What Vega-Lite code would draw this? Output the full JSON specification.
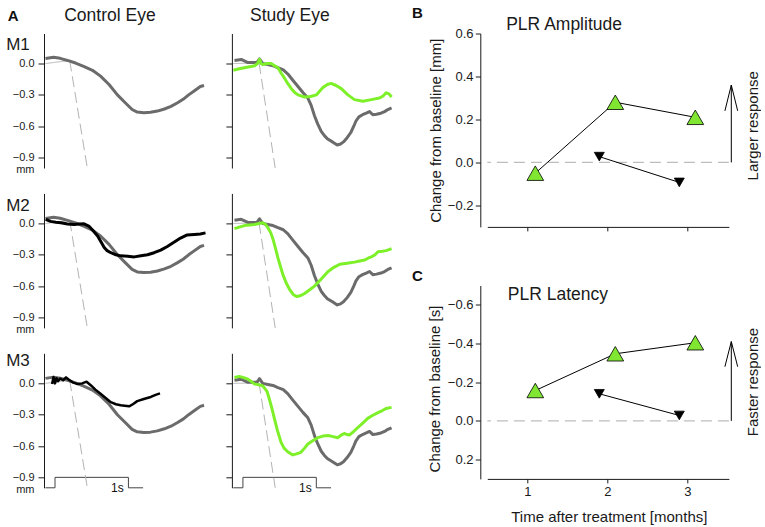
{
  "$schema": "https://vega.github.io/schema/vega-lite/v6.json",
  "padding": {"left": 5, "top": 5.5, "right": 0, "bottom": 0},
  "config": {
    "font": "Liberation Sans",
    "view": {"stroke": null},
    "axis": {"grid": false, "labelOverlap": false, "labelFont": "Liberation Sans", "titleFont": "Liberation Sans", "labelColor": "#1a1a1a", "titleColor": "#1a1a1a", "domainColor": "#1a1a1a", "tickColor": "#1a1a1a", "titleFontWeight": "normal"},
    "title": {"font": "Liberation Sans", "color": "#111111"},
    "text": {"font": "Liberation Sans"}
  },
  "datasets": {
    "fit": [
      {"eye": "Control", "seg": "base", "t": 0.02, "v": 0.0},
      {"eye": "Control", "seg": "base", "t": 0.35, "v": 0.03},
      {"eye": "Control", "seg": "slope", "t": 0.35, "v": 0.03},
      {"eye": "Control", "seg": "slope", "t": 0.59, "v": -1.0},
      {"eye": "Study", "seg": "base", "t": 0.02, "v": 0.0},
      {"eye": "Study", "seg": "base", "t": 0.37, "v": 0.005},
      {"eye": "Study", "seg": "slope", "t": 0.37, "v": 0.005},
      {"eye": "Study", "seg": "slope", "t": 0.59, "v": -1.0}
    ],
    "baseline": [
      {"eye": "Control", "t": 0.02, "v": 0.048}, {"eye": "Control", "t": 0.13, "v": 0.06}, {"eye": "Control", "t": 0.22, "v": 0.05},
      {"eye": "Control", "t": 0.32, "v": 0.03}, {"eye": "Control", "t": 0.43, "v": 0.005}, {"eye": "Control", "t": 0.54, "v": -0.026},
      {"eye": "Control", "t": 0.66, "v": -0.064}, {"eye": "Control", "t": 0.77, "v": -0.12}, {"eye": "Control", "t": 0.886, "v": -0.2},
      {"eye": "Control", "t": 1.0, "v": -0.3}, {"eye": "Control", "t": 1.11, "v": -0.377}, {"eye": "Control", "t": 1.2, "v": -0.44},
      {"eye": "Control", "t": 1.27, "v": -0.464}, {"eye": "Control", "t": 1.36, "v": -0.47}, {"eye": "Control", "t": 1.45, "v": -0.467},
      {"eye": "Control", "t": 1.545, "v": -0.455}, {"eye": "Control", "t": 1.64, "v": -0.435}, {"eye": "Control", "t": 1.73, "v": -0.41},
      {"eye": "Control", "t": 1.82, "v": -0.375}, {"eye": "Control", "t": 1.9, "v": -0.34}, {"eye": "Control", "t": 1.97, "v": -0.3},
      {"eye": "Control", "t": 2.05, "v": -0.26}, {"eye": "Control", "t": 2.13, "v": -0.22}, {"eye": "Control", "t": 2.18, "v": -0.21},
      {"eye": "Study", "t": 0.035, "v": 0.03}, {"eye": "Study", "t": 0.127, "v": 0.04}, {"eye": "Study", "t": 0.218, "v": 0.01},
      {"eye": "Study", "t": 0.3, "v": 0.01}, {"eye": "Study", "t": 0.34, "v": 0.01}, {"eye": "Study", "t": 0.376, "v": 0.045},
      {"eye": "Study", "t": 0.42, "v": 0.0}, {"eye": "Study", "t": 0.49, "v": -0.01}, {"eye": "Study", "t": 0.56, "v": -0.02},
      {"eye": "Study", "t": 0.627, "v": -0.04}, {"eye": "Study", "t": 0.7, "v": -0.06}, {"eye": "Study", "t": 0.763, "v": -0.1},
      {"eye": "Study", "t": 0.83, "v": -0.16}, {"eye": "Study", "t": 0.9, "v": -0.22}, {"eye": "Study", "t": 0.97, "v": -0.28},
      {"eye": "Study", "t": 1.035, "v": -0.33}, {"eye": "Study", "t": 1.08, "v": -0.4}, {"eye": "Study", "t": 1.125, "v": -0.5},
      {"eye": "Study", "t": 1.17, "v": -0.58}, {"eye": "Study", "t": 1.217, "v": -0.65}, {"eye": "Study", "t": 1.26, "v": -0.69},
      {"eye": "Study", "t": 1.3, "v": -0.72}, {"eye": "Study", "t": 1.37, "v": -0.75}, {"eye": "Study", "t": 1.435, "v": -0.78},
      {"eye": "Study", "t": 1.48, "v": -0.77}, {"eye": "Study", "t": 1.52, "v": -0.75}, {"eye": "Study", "t": 1.57, "v": -0.71},
      {"eye": "Study", "t": 1.62, "v": -0.66}, {"eye": "Study", "t": 1.66, "v": -0.6}, {"eye": "Study", "t": 1.69, "v": -0.55},
      {"eye": "Study", "t": 1.73, "v": -0.51}, {"eye": "Study", "t": 1.78, "v": -0.49}, {"eye": "Study", "t": 1.83, "v": -0.475},
      {"eye": "Study", "t": 1.875, "v": -0.46}, {"eye": "Study", "t": 1.92, "v": -0.49}, {"eye": "Study", "t": 1.97, "v": -0.485},
      {"eye": "Study", "t": 2.03, "v": -0.475}, {"eye": "Study", "t": 2.08, "v": -0.46}, {"eye": "Study", "t": 2.125, "v": -0.44},
      {"eye": "Study", "t": 2.175, "v": -0.425}
    ],
    "test": [
      {"eye": "Control", "row": "M2", "t": 0.023, "v": 0.04}, {"eye": "Control", "row": "M2", "t": 0.09, "v": 0.02},
      {"eye": "Control", "row": "M2", "t": 0.16, "v": 0.012}, {"eye": "Control", "row": "M2", "t": 0.23, "v": 0.007},
      {"eye": "Control", "row": "M2", "t": 0.32, "v": -0.005}, {"eye": "Control", "row": "M2", "t": 0.41, "v": -0.01},
      {"eye": "Control", "row": "M2", "t": 0.48, "v": -0.005}, {"eye": "Control", "row": "M2", "t": 0.545, "v": -0.003},
      {"eye": "Control", "row": "M2", "t": 0.61, "v": -0.025}, {"eye": "Control", "row": "M2", "t": 0.67, "v": -0.07},
      {"eye": "Control", "row": "M2", "t": 0.73, "v": -0.12}, {"eye": "Control", "row": "M2", "t": 0.78, "v": -0.18},
      {"eye": "Control", "row": "M2", "t": 0.82, "v": -0.23}, {"eye": "Control", "row": "M2", "t": 0.86, "v": -0.26},
      {"eye": "Control", "row": "M2", "t": 0.91, "v": -0.28}, {"eye": "Control", "row": "M2", "t": 0.98, "v": -0.3},
      {"eye": "Control", "row": "M2", "t": 1.045, "v": -0.31}, {"eye": "Control", "row": "M2", "t": 1.14, "v": -0.315},
      {"eye": "Control", "row": "M2", "t": 1.23, "v": -0.32}, {"eye": "Control", "row": "M2", "t": 1.32, "v": -0.31},
      {"eye": "Control", "row": "M2", "t": 1.41, "v": -0.3}, {"eye": "Control", "row": "M2", "t": 1.5, "v": -0.28},
      {"eye": "Control", "row": "M2", "t": 1.59, "v": -0.255}, {"eye": "Control", "row": "M2", "t": 1.68, "v": -0.22},
      {"eye": "Control", "row": "M2", "t": 1.77, "v": -0.18}, {"eye": "Control", "row": "M2", "t": 1.86, "v": -0.14},
      {"eye": "Control", "row": "M2", "t": 1.95, "v": -0.11}, {"eye": "Control", "row": "M2", "t": 2.05, "v": -0.105},
      {"eye": "Control", "row": "M2", "t": 2.13, "v": -0.1}, {"eye": "Control", "row": "M2", "t": 2.2, "v": -0.09},
      {"eye": "Control", "row": "M3", "t": 0.11, "v": -0.005}, {"eye": "Control", "row": "M3", "t": 0.13, "v": 0.06},
      {"eye": "Control", "row": "M3", "t": 0.15, "v": 0.0}, {"eye": "Control", "row": "M3", "t": 0.17, "v": 0.05},
      {"eye": "Control", "row": "M3", "t": 0.19, "v": 0.02}, {"eye": "Control", "row": "M3", "t": 0.22, "v": 0.045},
      {"eye": "Control", "row": "M3", "t": 0.26, "v": 0.03}, {"eye": "Control", "row": "M3", "t": 0.3, "v": 0.057},
      {"eye": "Control", "row": "M3", "t": 0.34, "v": 0.035}, {"eye": "Control", "row": "M3", "t": 0.39, "v": 0.01},
      {"eye": "Control", "row": "M3", "t": 0.45, "v": -0.005}, {"eye": "Control", "row": "M3", "t": 0.52, "v": 0.0},
      {"eye": "Control", "row": "M3", "t": 0.58, "v": 0.016}, {"eye": "Control", "row": "M3", "t": 0.64, "v": -0.02},
      {"eye": "Control", "row": "M3", "t": 0.7, "v": -0.06}, {"eye": "Control", "row": "M3", "t": 0.77, "v": -0.1},
      {"eye": "Control", "row": "M3", "t": 0.84, "v": -0.14}, {"eye": "Control", "row": "M3", "t": 0.91, "v": -0.18},
      {"eye": "Control", "row": "M3", "t": 0.98, "v": -0.2}, {"eye": "Control", "row": "M3", "t": 1.045, "v": -0.21},
      {"eye": "Control", "row": "M3", "t": 1.1, "v": -0.215}, {"eye": "Control", "row": "M3", "t": 1.16, "v": -0.22},
      {"eye": "Control", "row": "M3", "t": 1.21, "v": -0.2}, {"eye": "Control", "row": "M3", "t": 1.27, "v": -0.17},
      {"eye": "Control", "row": "M3", "t": 1.36, "v": -0.15}, {"eye": "Control", "row": "M3", "t": 1.455, "v": -0.13},
      {"eye": "Control", "row": "M3", "t": 1.52, "v": -0.11}, {"eye": "Control", "row": "M3", "t": 1.58, "v": -0.096},
      {"eye": "Study", "row": "M1", "t": 0.02, "v": -0.064}, {"eye": "Study", "row": "M1", "t": 0.1, "v": -0.05},
      {"eye": "Study", "row": "M1", "t": 0.17, "v": -0.04}, {"eye": "Study", "row": "M1", "t": 0.24, "v": -0.03},
      {"eye": "Study", "row": "M1", "t": 0.31, "v": -0.02}, {"eye": "Study", "row": "M1", "t": 0.35, "v": 0.0},
      {"eye": "Study", "row": "M1", "t": 0.376, "v": 0.04}, {"eye": "Study", "row": "M1", "t": 0.4, "v": 0.0},
      {"eye": "Study", "row": "M1", "t": 0.42, "v": -0.01}, {"eye": "Study", "row": "M1", "t": 0.48, "v": 0.0},
      {"eye": "Study", "row": "M1", "t": 0.535, "v": 0.0}, {"eye": "Study", "row": "M1", "t": 0.58, "v": -0.02},
      {"eye": "Study", "row": "M1", "t": 0.627, "v": -0.04}, {"eye": "Study", "row": "M1", "t": 0.67, "v": -0.09},
      {"eye": "Study", "row": "M1", "t": 0.717, "v": -0.14}, {"eye": "Study", "row": "M1", "t": 0.76, "v": -0.19},
      {"eye": "Study", "row": "M1", "t": 0.81, "v": -0.24}, {"eye": "Study", "row": "M1", "t": 0.86, "v": -0.28},
      {"eye": "Study", "row": "M1", "t": 0.9, "v": -0.3}, {"eye": "Study", "row": "M1", "t": 0.99, "v": -0.32},
      {"eye": "Study", "row": "M1", "t": 1.07, "v": -0.315}, {"eye": "Study", "row": "M1", "t": 1.15, "v": -0.3},
      {"eye": "Study", "row": "M1", "t": 1.2, "v": -0.26}, {"eye": "Study", "row": "M1", "t": 1.24, "v": -0.23},
      {"eye": "Study", "row": "M1", "t": 1.3, "v": -0.2}, {"eye": "Study", "row": "M1", "t": 1.35, "v": -0.19},
      {"eye": "Study", "row": "M1", "t": 1.42, "v": -0.21}, {"eye": "Study", "row": "M1", "t": 1.49, "v": -0.24},
      {"eye": "Study", "row": "M1", "t": 1.58, "v": -0.3}, {"eye": "Study", "row": "M1", "t": 1.67, "v": -0.345},
      {"eye": "Study", "row": "M1", "t": 1.785, "v": -0.36}, {"eye": "Study", "row": "M1", "t": 1.9, "v": -0.345},
      {"eye": "Study", "row": "M1", "t": 2.01, "v": -0.33}, {"eye": "Study", "row": "M1", "t": 2.06, "v": -0.31},
      {"eye": "Study", "row": "M1", "t": 2.1, "v": -0.28}, {"eye": "Study", "row": "M1", "t": 2.14, "v": -0.29},
      {"eye": "Study", "row": "M1", "t": 2.175, "v": -0.32},
      {"eye": "Study", "row": "M2", "t": 0.035, "v": -0.05}, {"eye": "Study", "row": "M2", "t": 0.1, "v": -0.035},
      {"eye": "Study", "row": "M2", "t": 0.17, "v": -0.02}, {"eye": "Study", "row": "M2", "t": 0.24, "v": -0.015},
      {"eye": "Study", "row": "M2", "t": 0.31, "v": -0.01}, {"eye": "Study", "row": "M2", "t": 0.37, "v": 0.0},
      {"eye": "Study", "row": "M2", "t": 0.42, "v": 0.007}, {"eye": "Study", "row": "M2", "t": 0.46, "v": -0.01},
      {"eye": "Study", "row": "M2", "t": 0.49, "v": -0.04}, {"eye": "Study", "row": "M2", "t": 0.53, "v": -0.09},
      {"eye": "Study", "row": "M2", "t": 0.56, "v": -0.15}, {"eye": "Study", "row": "M2", "t": 0.595, "v": -0.24},
      {"eye": "Study", "row": "M2", "t": 0.627, "v": -0.33}, {"eye": "Study", "row": "M2", "t": 0.66, "v": -0.41},
      {"eye": "Study", "row": "M2", "t": 0.695, "v": -0.49}, {"eye": "Study", "row": "M2", "t": 0.74, "v": -0.57},
      {"eye": "Study", "row": "M2", "t": 0.785, "v": -0.63}, {"eye": "Study", "row": "M2", "t": 0.835, "v": -0.68},
      {"eye": "Study", "row": "M2", "t": 0.885, "v": -0.7}, {"eye": "Study", "row": "M2", "t": 0.94, "v": -0.69},
      {"eye": "Study", "row": "M2", "t": 0.99, "v": -0.67}, {"eye": "Study", "row": "M2", "t": 1.06, "v": -0.635},
      {"eye": "Study", "row": "M2", "t": 1.125, "v": -0.6}, {"eye": "Study", "row": "M2", "t": 1.22, "v": -0.53},
      {"eye": "Study", "row": "M2", "t": 1.31, "v": -0.46}, {"eye": "Study", "row": "M2", "t": 1.39, "v": -0.42},
      {"eye": "Study", "row": "M2", "t": 1.47, "v": -0.39}, {"eye": "Study", "row": "M2", "t": 1.57, "v": -0.38},
      {"eye": "Study", "row": "M2", "t": 1.67, "v": -0.37}, {"eye": "Study", "row": "M2", "t": 1.74, "v": -0.36},
      {"eye": "Study", "row": "M2", "t": 1.81, "v": -0.35}, {"eye": "Study", "row": "M2", "t": 1.86, "v": -0.33},
      {"eye": "Study", "row": "M2", "t": 1.9, "v": -0.32}, {"eye": "Study", "row": "M2", "t": 1.95, "v": -0.3},
      {"eye": "Study", "row": "M2", "t": 1.99, "v": -0.27}, {"eye": "Study", "row": "M2", "t": 2.05, "v": -0.265},
      {"eye": "Study", "row": "M2", "t": 2.1, "v": -0.26}, {"eye": "Study", "row": "M2", "t": 2.14, "v": -0.25},
      {"eye": "Study", "row": "M2", "t": 2.175, "v": -0.24},
      {"eye": "Study", "row": "M3", "t": 0.035, "v": 0.057}, {"eye": "Study", "row": "M3", "t": 0.1, "v": 0.067},
      {"eye": "Study", "row": "M3", "t": 0.16, "v": 0.055}, {"eye": "Study", "row": "M3", "t": 0.218, "v": 0.04},
      {"eye": "Study", "row": "M3", "t": 0.27, "v": 0.015}, {"eye": "Study", "row": "M3", "t": 0.31, "v": -0.007},
      {"eye": "Study", "row": "M3", "t": 0.35, "v": -0.01}, {"eye": "Study", "row": "M3", "t": 0.376, "v": -0.016},
      {"eye": "Study", "row": "M3", "t": 0.41, "v": -0.02}, {"eye": "Study", "row": "M3", "t": 0.44, "v": -0.04},
      {"eye": "Study", "row": "M3", "t": 0.48, "v": -0.08}, {"eye": "Study", "row": "M3", "t": 0.51, "v": -0.15},
      {"eye": "Study", "row": "M3", "t": 0.545, "v": -0.24}, {"eye": "Study", "row": "M3", "t": 0.58, "v": -0.34},
      {"eye": "Study", "row": "M3", "t": 0.62, "v": -0.45}, {"eye": "Study", "row": "M3", "t": 0.67, "v": -0.565},
      {"eye": "Study", "row": "M3", "t": 0.71, "v": -0.62}, {"eye": "Study", "row": "M3", "t": 0.76, "v": -0.655},
      {"eye": "Study", "row": "M3", "t": 0.83, "v": -0.685}, {"eye": "Study", "row": "M3", "t": 0.88, "v": -0.675},
      {"eye": "Study", "row": "M3", "t": 0.94, "v": -0.66}, {"eye": "Study", "row": "M3", "t": 0.99, "v": -0.62},
      {"eye": "Study", "row": "M3", "t": 1.035, "v": -0.58}, {"eye": "Study", "row": "M3", "t": 1.1, "v": -0.55},
      {"eye": "Study", "row": "M3", "t": 1.17, "v": -0.52}, {"eye": "Study", "row": "M3", "t": 1.24, "v": -0.505},
      {"eye": "Study", "row": "M3", "t": 1.31, "v": -0.5}, {"eye": "Study", "row": "M3", "t": 1.38, "v": -0.51},
      {"eye": "Study", "row": "M3", "t": 1.44, "v": -0.52}, {"eye": "Study", "row": "M3", "t": 1.5, "v": -0.49},
      {"eye": "Study", "row": "M3", "t": 1.53, "v": -0.48}, {"eye": "Study", "row": "M3", "t": 1.57, "v": -0.49},
      {"eye": "Study", "row": "M3", "t": 1.6, "v": -0.495}, {"eye": "Study", "row": "M3", "t": 1.66, "v": -0.46},
      {"eye": "Study", "row": "M3", "t": 1.72, "v": -0.42}, {"eye": "Study", "row": "M3", "t": 1.79, "v": -0.375},
      {"eye": "Study", "row": "M3", "t": 1.85, "v": -0.335}, {"eye": "Study", "row": "M3", "t": 1.92, "v": -0.305},
      {"eye": "Study", "row": "M3", "t": 1.99, "v": -0.28}, {"eye": "Study", "row": "M3", "t": 2.05, "v": -0.26},
      {"eye": "Study", "row": "M3", "t": 2.1, "v": -0.24}, {"eye": "Study", "row": "M3", "t": 2.175, "v": -0.23}
    ],
    "stim": [
      {"i": 1, "t": 0.02, "v": -1.0}, {"i": 2, "t": 0.15, "v": -1.0}, {"i": 3, "t": 0.15, "v": -0.9},
      {"i": 4, "t": 1.15, "v": -0.9}, {"i": 5, "t": 1.15, "v": -1.0}, {"i": 6, "t": 1.35, "v": -1.0}
    ],
    "stimlabel": [{"label": "1s", "t": 1.0, "v": -1.0}],
    "plr": [
      {"measure": "Amplitude", "eye": "Study", "month": 1.1, "value": -0.05},
      {"measure": "Amplitude", "eye": "Study", "month": 2.1, "value": 0.28},
      {"measure": "Amplitude", "eye": "Study", "month": 3.1, "value": 0.21},
      {"measure": "Amplitude", "eye": "Control", "month": 1.9, "value": 0.027},
      {"measure": "Amplitude", "eye": "Control", "month": 2.9, "value": -0.093},
      {"measure": "Latency", "eye": "Study", "month": 1.1, "value": -0.157},
      {"measure": "Latency", "eye": "Study", "month": 2.1, "value": -0.347},
      {"measure": "Latency", "eye": "Study", "month": 3.1, "value": -0.404},
      {"measure": "Latency", "eye": "Control", "month": 1.9, "value": -0.14},
      {"measure": "Latency", "eye": "Control", "month": 2.9, "value": -0.028}
    ],
    "arrows": [
      {"panel": "B", "m1": 3.55, "a1": 0.0, "m2": 3.55, "a2": 0.36},
      {"panel": "B", "m1": 3.47, "a1": 0.24, "m2": 3.55, "a2": 0.36},
      {"panel": "B", "m1": 3.63, "a1": 0.24, "m2": 3.55, "a2": 0.36},
      {"panel": "C", "m1": 3.55, "a1": 0.0, "m2": 3.55, "a2": -0.41},
      {"panel": "C", "m1": 3.47, "a1": -0.28, "m2": 3.55, "a2": -0.41},
      {"panel": "C", "m1": 3.63, "a1": -0.28, "m2": 3.55, "a2": -0.41}
    ]
  },
  "hconcat": [
    {
      "columns": 2,
      "bounds": "flush",
      "spacing": {"row": 24.9, "column": 25.9},
      "concat": [
        {
          "width": 161.5, "height": 134.5,
          "title": {"text": "A", "anchor": "start", "frame": "group", "dx": -36.3, "offset": -16.8, "fontSize": 15, "fontWeight": "bold", "baseline": "top"},
          "encoding": {
            "x": {"field": "t", "type": "quantitative", "scale": {"domain": [0, 2.2], "nice": false, "zero": false},
                  "axis": {"orient": "top", "domain": false, "ticks": false, "labels": false, "title": "Control Eye", "titleX": 19.7, "titleY": -12.7, "titleAlign": "left", "titleBaseline": "alphabetic", "titleFontSize": 17.5, "titleAngle": 0}},
            "y": {"field": "v", "type": "quantitative", "scale": {"domain": [-1, 0.288], "nice": false, "zero": false},
                  "axis": {"values": [-1, -0.9, -0.6, -0.3, 0], "format": ".1f", "labelExpr": "datum.value < -0.95 ? 'mm' : datum.label", "labelOffset": {"condition": {"test": "datum.value < -0.95", "value": 1.5}, "value": 0}, "tickOpacity": {"condition": {"test": "datum.value < -0.95", "value": 0}, "value": 1}, "tickSize": 6, "labelPadding": 4, "labelFontSize": 11, "title": "M1", "titleAngle": 0, "titleX": -38.3, "titleY": 16.1, "titleAlign": "left", "titleBaseline": "alphabetic", "titleFontSize": 17}}
          },
          "layer": [
            {"data": {"name": "fit"}, "transform": [{"filter": "datum.eye === 'Control'"}], "mark": {"type": "line", "color": "#b3b3b3", "strokeWidth": 1},
             "encoding": {"strokeDash": {"field": "seg", "type": "nominal", "scale": {"domain": ["base", "slope"], "range": [[1, 0], [11, 5]]}, "legend": null}}},
            {"data": {"name": "baseline"}, "transform": [{"filter": "datum.eye === 'Control'"}], "mark": {"type": "line", "color": "#6b6b6b", "strokeWidth": 3, "strokeJoin": "round"}, "encoding": {}}
          ]
        },
        {
          "width": 161.5, "height": 134.5,
          "encoding": {
            "x": {"field": "t", "type": "quantitative", "scale": {"domain": [0, 2.2], "nice": false, "zero": false},
                  "axis": {"orient": "top", "domain": false, "ticks": false, "labels": false, "title": "Study Eye", "titleX": 17.6, "titleY": -12.7, "titleAlign": "left", "titleBaseline": "alphabetic", "titleFontSize": 17.5, "titleAngle": 0}},
            "y": {"field": "v", "type": "quantitative", "scale": {"domain": [-1, 0.288], "nice": false, "zero": false},
                  "axis": {"values": [-0.9, -0.6, -0.3, 0], "labels": false, "tickSize": 6, "title": null}}
          },
          "layer": [
            {"data": {"name": "fit"}, "transform": [{"filter": "datum.eye === 'Study'"}], "mark": {"type": "line", "color": "#b3b3b3", "strokeWidth": 1},
             "encoding": {"strokeDash": {"field": "seg", "type": "nominal", "scale": {"domain": ["base", "slope"], "range": [[1, 0], [11, 5]]}, "legend": null}}},
            {"data": {"name": "baseline"}, "transform": [{"filter": "datum.eye === 'Study'"}], "mark": {"type": "line", "color": "#6b6b6b", "strokeWidth": 3, "strokeJoin": "round"}, "encoding": {}},
            {"data": {"name": "test"}, "transform": [{"filter": "datum.eye === 'Study' && datum.row === 'M1'"}], "mark": {"type": "line", "color": "#7df02a", "strokeWidth": 3, "strokeJoin": "round"}, "encoding": {}}
          ]
        },
        {
          "width": 161.5, "height": 134.5,
          "encoding": {
            "x": {"field": "t", "type": "quantitative", "scale": {"domain": [0, 2.2], "nice": false, "zero": false}, "axis": null},
            "y": {"field": "v", "type": "quantitative", "scale": {"domain": [-1, 0.288], "nice": false, "zero": false},
                  "axis": {"values": [-1, -0.9, -0.6, -0.3, 0], "format": ".1f", "labelExpr": "datum.value < -0.95 ? 'mm' : datum.label", "labelOffset": {"condition": {"test": "datum.value < -0.95", "value": 1.5}, "value": 0}, "tickOpacity": {"condition": {"test": "datum.value < -0.95", "value": 0}, "value": 1}, "tickSize": 6, "labelPadding": 4, "labelFontSize": 11, "title": "M2", "titleAngle": 0, "titleX": -38.3, "titleY": 16.7, "titleAlign": "left", "titleBaseline": "alphabetic", "titleFontSize": 17}}
          },
          "layer": [
            {"data": {"name": "fit"}, "transform": [{"filter": "datum.eye === 'Control'"}], "mark": {"type": "line", "color": "#b3b3b3", "strokeWidth": 1},
             "encoding": {"strokeDash": {"field": "seg", "type": "nominal", "scale": {"domain": ["base", "slope"], "range": [[1, 0], [11, 5]]}, "legend": null}}},
            {"data": {"name": "baseline"}, "transform": [{"filter": "datum.eye === 'Control'"}], "mark": {"type": "line", "color": "#6b6b6b", "strokeWidth": 3, "strokeJoin": "round"}, "encoding": {}},
            {"data": {"name": "test"}, "transform": [{"filter": "datum.eye === 'Control' && datum.row === 'M2'"}], "mark": {"type": "line", "color": "#000000", "strokeWidth": 3, "strokeJoin": "round"}, "encoding": {}}
          ]
        },
        {
          "width": 161.5, "height": 134.5,
          "encoding": {
            "x": {"field": "t", "type": "quantitative", "scale": {"domain": [0, 2.2], "nice": false, "zero": false}, "axis": null},
            "y": {"field": "v", "type": "quantitative", "scale": {"domain": [-1, 0.288], "nice": false, "zero": false},
                  "axis": {"values": [-0.9, -0.6, -0.3, 0], "labels": false, "tickSize": 6, "title": null}}
          },
          "layer": [
            {"data": {"name": "fit"}, "transform": [{"filter": "datum.eye === 'Study'"}], "mark": {"type": "line", "color": "#b3b3b3", "strokeWidth": 1},
             "encoding": {"strokeDash": {"field": "seg", "type": "nominal", "scale": {"domain": ["base", "slope"], "range": [[1, 0], [11, 5]]}, "legend": null}}},
            {"data": {"name": "baseline"}, "transform": [{"filter": "datum.eye === 'Study'"}], "mark": {"type": "line", "color": "#6b6b6b", "strokeWidth": 3, "strokeJoin": "round"}, "encoding": {}},
            {"data": {"name": "test"}, "transform": [{"filter": "datum.eye === 'Study' && datum.row === 'M2'"}], "mark": {"type": "line", "color": "#7df02a", "strokeWidth": 3, "strokeJoin": "round"}, "encoding": {}}
          ]
        },
        {
          "width": 161.5, "height": 134.5,
          "encoding": {
            "x": {"field": "t", "type": "quantitative", "scale": {"domain": [0, 2.2], "nice": false, "zero": false}, "axis": null},
            "y": {"field": "v", "type": "quantitative", "scale": {"domain": [-1, 0.288], "nice": false, "zero": false},
                  "axis": {"values": [-1, -0.9, -0.6, -0.3, 0], "format": ".1f", "labelExpr": "datum.value < -0.95 ? 'mm' : datum.label", "labelOffset": {"condition": {"test": "datum.value < -0.95", "value": 1.5}, "value": 0}, "tickOpacity": {"condition": {"test": "datum.value < -0.95", "value": 0}, "value": 1}, "tickSize": 6, "labelPadding": 4, "labelFontSize": 11, "title": "M3", "titleAngle": 0, "titleX": -38.3, "titleY": 12.3, "titleAlign": "left", "titleBaseline": "alphabetic", "titleFontSize": 17}}
          },
          "layer": [
            {"data": {"name": "stim"}, "mark": {"type": "line", "color": "#444444", "strokeWidth": 1}, "encoding": {"order": {"field": "i", "type": "quantitative"}}},
            {"data": {"name": "stimlabel"}, "mark": {"type": "text", "fontSize": 12, "baseline": "middle", "align": "center", "color": "#111111"}, "encoding": {"text": {"field": "label", "type": "nominal"}}},
            {"data": {"name": "fit"}, "transform": [{"filter": "datum.eye === 'Control'"}], "mark": {"type": "line", "color": "#b3b3b3", "strokeWidth": 1},
             "encoding": {"strokeDash": {"field": "seg", "type": "nominal", "scale": {"domain": ["base", "slope"], "range": [[1, 0], [11, 5]]}, "legend": null}}},
            {"data": {"name": "baseline"}, "transform": [{"filter": "datum.eye === 'Control'"}], "mark": {"type": "line", "color": "#6b6b6b", "strokeWidth": 3, "strokeJoin": "round"}, "encoding": {}},
            {"data": {"name": "test"}, "transform": [{"filter": "datum.eye === 'Control' && datum.row === 'M3'"}], "mark": {"type": "line", "color": "#000000", "strokeWidth": 2.5, "strokeJoin": "round"}, "encoding": {}}
          ]
        },
        {
          "width": 161.5, "height": 134.5,
          "encoding": {
            "x": {"field": "t", "type": "quantitative", "scale": {"domain": [0, 2.2], "nice": false, "zero": false}, "axis": null},
            "y": {"field": "v", "type": "quantitative", "scale": {"domain": [-1, 0.288], "nice": false, "zero": false},
                  "axis": {"values": [-0.9, -0.6, -0.3, 0], "labels": false, "tickSize": 6, "title": null}}
          },
          "layer": [
            {"data": {"name": "stim"}, "mark": {"type": "line", "color": "#444444", "strokeWidth": 1}, "encoding": {"order": {"field": "i", "type": "quantitative"}}},
            {"data": {"name": "stimlabel"}, "mark": {"type": "text", "fontSize": 12, "baseline": "middle", "align": "center", "color": "#111111"}, "encoding": {"text": {"field": "label", "type": "nominal"}}},
            {"data": {"name": "fit"}, "transform": [{"filter": "datum.eye === 'Study'"}], "mark": {"type": "line", "color": "#b3b3b3", "strokeWidth": 1},
             "encoding": {"strokeDash": {"field": "seg", "type": "nominal", "scale": {"domain": ["base", "slope"], "range": [[1, 0], [11, 5]]}, "legend": null}}},
            {"data": {"name": "baseline"}, "transform": [{"filter": "datum.eye === 'Study'"}], "mark": {"type": "line", "color": "#6b6b6b", "strokeWidth": 3, "strokeJoin": "round"}, "encoding": {}},
            {"data": {"name": "test"}, "transform": [{"filter": "datum.eye === 'Study' && datum.row === 'M3'"}], "mark": {"type": "line", "color": "#7df02a", "strokeWidth": 3, "strokeJoin": "round"}, "encoding": {}}
          ]
        }
      ]
    },
    {
      "bounds": "flush",
      "spacing": 58,
      "vconcat": [
        {
          "width": 241.6, "height": 193.4,
          "title": {"text": "B", "anchor": "start", "frame": "group", "dx": -75.3, "offset": -5.8, "fontSize": 15, "fontWeight": "bold", "baseline": "top"},
          "resolve": {"axis": {"x": "independent", "y": "independent"}},
          "layer": [
            {"data": {"values": [{"ref": 0}]}, "mark": {"type": "rule", "color": "#bdbdbd", "strokeWidth": 1.3, "strokeDash": [11, 6]},
             "encoding": {"y": {"field": "ref", "type": "quantitative", "scale": {"domain": [-0.3, 0.6], "nice": false, "zero": false}, "axis": null}}},
            {"data": {"name": "plr"}, "transform": [{"filter": "datum.measure === 'Amplitude'"}], "mark": {"type": "line", "color": "#000000", "strokeWidth": 1},
             "encoding": {
               "x": {"field": "month", "type": "quantitative", "scale": {"domain": [0.5, 3.52], "nice": false, "zero": false},
                     "axis": {"orient": "bottom", "values": [1, 2, 3], "labels": false, "tickSize": 4, "title": null}},
               "y": {"field": "value", "type": "quantitative", "scale": {"domain": [-0.3, 0.6], "nice": false, "zero": false},
                     "axis": {"orient": "left", "offset": 7, "values": [-0.2, 0, 0.2, 0.4, 0.6], "format": ".1f", "tickSize": 5, "labelPadding": 2.3, "labelFontSize": 13, "title": "Change from baseline [mm]", "titleFontSize": 15, "titleX": -44.6, "titleY": 96.7, "titleAngle": 270, "titleAlign": "center", "titleBaseline": "middle"}},
               "detail": {"field": "eye", "type": "nominal"}
             }},
            {"data": {"name": "plr"}, "transform": [{"filter": "datum.measure === 'Amplitude'"}], "mark": {"type": "point", "filled": true, "stroke": "#000000", "strokeWidth": 0.8, "opacity": 1},
             "encoding": {
               "x": {"field": "month", "type": "quantitative", "scale": {"domain": [0.5, 3.52], "nice": false, "zero": false}, "axis": null},
               "y": {"field": "value", "type": "quantitative", "scale": {"domain": [-0.3, 0.6], "nice": false, "zero": false}, "axis": null},
               "shape": {"field": "eye", "type": "nominal", "scale": {"domain": ["Study", "Control"], "range": ["triangle-up", "triangle-down"]}, "legend": null},
               "fill": {"field": "eye", "type": "nominal", "scale": {"domain": ["Study", "Control"], "range": ["#80e632", "#000000"]}, "legend": null},
               "size": {"field": "eye", "type": "ordinal", "scale": {"domain": ["Study", "Control"], "range": [280, 100]}, "legend": null}
             }},
            {"data": {"name": "arrows"}, "transform": [{"filter": "datum.panel === 'B'"}], "mark": {"type": "rule", "color": "#000000", "strokeWidth": 1},
             "encoding": {
               "x": {"field": "m1", "type": "quantitative", "scale": {"domain": [0.5, 3.52], "nice": false, "zero": false},
                     "axis": {"orient": "top", "domain": false, "ticks": false, "labels": false, "title": "PLR Amplitude", "titleX": 18.4, "titleY": -4.5, "titleAlign": "left", "titleBaseline": "alphabetic", "titleFontSize": 17.5, "titleAngle": 0}},
               "x2": {"field": "m2"},
               "y": {"field": "a1", "type": "quantitative", "scale": {"domain": [-0.3, 0.6], "nice": false, "zero": false},
                     "axis": {"orient": "right", "domain": false, "ticks": false, "labels": false, "title": "Larger response", "titleX": 23.4, "titleY": 91.8, "titleAngle": 270, "titleAlign": "center", "titleBaseline": "middle", "titleFontSize": 15}},
               "y2": {"field": "a2"}
             }}
          ]
        },
        {
          "width": 241.6, "height": 193.4,
          "title": {"text": "C", "anchor": "start", "frame": "group", "dx": -75.3, "offset": 1.6, "fontSize": 15, "fontWeight": "bold", "baseline": "top"},
          "resolve": {"axis": {"x": "independent", "y": "independent"}},
          "layer": [
            {"data": {"values": [{"ref": 0}]}, "mark": {"type": "rule", "color": "#bdbdbd", "strokeWidth": 1.3, "strokeDash": [11, 6]},
             "encoding": {"y": {"field": "ref", "type": "quantitative", "scale": {"domain": [-0.7, 0.3], "nice": false, "zero": false, "reverse": true}, "axis": null}}},
            {"data": {"name": "plr"}, "transform": [{"filter": "datum.measure === 'Latency'"}], "mark": {"type": "line", "color": "#000000", "strokeWidth": 1},
             "encoding": {
               "x": {"field": "month", "type": "quantitative", "scale": {"domain": [0.5, 3.52], "nice": false, "zero": false},
                     "axis": {"orient": "bottom", "values": [1, 2, 3], "format": "d", "tickSize": 4, "labelPadding": 2.5, "labelFontSize": 13, "title": "Time after treatment [months]", "titleFontSize": 15, "titleX": 121.5, "titleY": 43, "titleAlign": "center", "titleBaseline": "alphabetic"}},
               "y": {"field": "value", "type": "quantitative", "scale": {"domain": [-0.7, 0.3], "nice": false, "zero": false, "reverse": true},
                     "axis": {"orient": "left", "offset": 7, "values": [-0.6, -0.4, -0.2, 0, 0.2], "format": ".1f", "tickSize": 5, "labelPadding": 2.3, "labelFontSize": 13, "title": "Change from baseline [s]", "titleFontSize": 15, "titleX": -46.3, "titleY": 103, "titleAngle": 270, "titleAlign": "center", "titleBaseline": "middle"}},
               "detail": {"field": "eye", "type": "nominal"}
             }},
            {"data": {"name": "plr"}, "transform": [{"filter": "datum.measure === 'Latency'"}], "mark": {"type": "point", "filled": true, "stroke": "#000000", "strokeWidth": 0.8, "opacity": 1},
             "encoding": {
               "x": {"field": "month", "type": "quantitative", "scale": {"domain": [0.5, 3.52], "nice": false, "zero": false}, "axis": null},
               "y": {"field": "value", "type": "quantitative", "scale": {"domain": [-0.7, 0.3], "nice": false, "zero": false, "reverse": true}, "axis": null},
               "shape": {"field": "eye", "type": "nominal", "scale": {"domain": ["Study", "Control"], "range": ["triangle-up", "triangle-down"]}, "legend": null},
               "fill": {"field": "eye", "type": "nominal", "scale": {"domain": ["Study", "Control"], "range": ["#80e632", "#000000"]}, "legend": null},
               "size": {"field": "eye", "type": "ordinal", "scale": {"domain": ["Study", "Control"], "range": [280, 100]}, "legend": null}
             }},
            {"data": {"name": "arrows"}, "transform": [{"filter": "datum.panel === 'C'"}], "mark": {"type": "rule", "color": "#000000", "strokeWidth": 1},
             "encoding": {
               "x": {"field": "m1", "type": "quantitative", "scale": {"domain": [0.5, 3.52], "nice": false, "zero": false},
                     "axis": {"orient": "top", "domain": false, "ticks": false, "labels": false, "title": "PLR Latency", "titleX": 20, "titleY": 13.6, "titleAlign": "left", "titleBaseline": "alphabetic", "titleFontSize": 17.5, "titleAngle": 0}},
               "x2": {"field": "m2"},
               "y": {"field": "a1", "type": "quantitative", "scale": {"domain": [-0.7, 0.3], "nice": false, "zero": false, "reverse": true},
                     "axis": {"orient": "right", "domain": false, "ticks": false, "labels": false, "title": "Faster response", "titleX": 23.4, "titleY": 96.1, "titleAngle": 270, "titleAlign": "center", "titleBaseline": "middle", "titleFontSize": 15}},
               "y2": {"field": "a2"}
             }}
          ]
        }
      ]
    }
  ],
  "spacing": 17.3
}
